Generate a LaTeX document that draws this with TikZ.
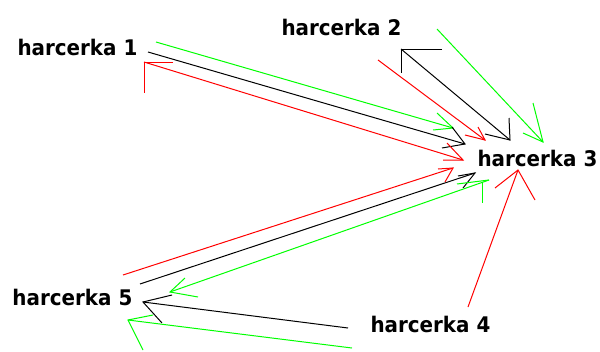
\documentclass[tikz,border=0pt]{standalone}
\usepackage{fontspec}
\newfontfamily\labfont[FakeStretch=0.925]{DejaVu Sans Bold}
\definecolor{pgreen}{RGB}{0,255,0}
\definecolor{pred}{RGB}{255,0,0}
\begin{document}
\begin{tikzpicture}[x=1pt,y=-1pt,line width=1pt,
  lab/.style={font=\labfont\fontsize{21.5}{22}\selectfont, inner sep=0pt, anchor=base west},
  gl/.style={draw=pgreen},
  rl/.style={draw=pred},
  kl/.style={draw=black}]
\useasboundingbox (0,0) rectangle (600,351);
% labels
\node[lab] (h1) at (17,55) {harcerka 1};
\node[lab] (h2) at (281,35) {harcerka 2};
\node[lab] (h3) at (477,166) {harcerka 3};
\node[lab] (h4) at (370,332) {harcerka 4};
\node[lab] (h5) at (12,305) {harcerka 5};
% endpoints: harcerka 1 -> 3
\coordinate (g1s) at (156,42); \coordinate (g1t) at (453,128);
\coordinate (g1a) at (437,113); \coordinate (g1b) at (433,130);
\coordinate (k1s) at (148,52); \coordinate (k1t) at (465,144);
\coordinate (k1a) at (452,127); \coordinate (k1b) at (442,148);
\coordinate (r1s) at (144,62); \coordinate (r1t) at (463,160);
\coordinate (r1a) at (447,143); \coordinate (r1b) at (443,160);
\coordinate (r1c) at (173,62); \coordinate (r1d) at (144,93);
% harcerka 2 -> 3
\coordinate (k2s) at (401,49); \coordinate (k2t) at (510,140);
\coordinate (k2a) at (442,49); \coordinate (k2b) at (401,73);
\coordinate (k2c) at (509,118); \coordinate (k2d) at (485,134);
\coordinate (r2s) at (378,60); \coordinate (r2t) at (485,140);
\coordinate (r2a) at (478,127); \coordinate (r2b) at (465,135);
\coordinate (g2s) at (437,29); \coordinate (g2t) at (543,142);
\coordinate (g2a) at (533,103); \coordinate (g2b) at (523,133);
% harcerka 5 <-> 3
\coordinate (r5s) at (123,275); \coordinate (r5t) at (453,168);
\coordinate (r5a) at (438,169); \coordinate (r5b) at (445,182);
\coordinate (k5s) at (140,284); \coordinate (k5t) at (475,173);
\coordinate (k5a) at (458,176); \coordinate (k5b) at (463,188);
\coordinate (g5s) at (489,180); \coordinate (g5t) at (170,292);
\coordinate (g5a) at (185,278); \coordinate (g5b) at (198,297);
\coordinate (g5c) at (457,184); \coordinate (g5d) at (482,182); \coordinate (g5e) at (482,203);
% harcerka 4
\coordinate (r4s) at (468,307); \coordinate (r4t) at (518,170);
\coordinate (r4a) at (495,188); \coordinate (r4b) at (535,200);
\coordinate (k4s) at (348,328); \coordinate (k4t) at (143,302);
\coordinate (k4a) at (172,295); \coordinate (k4b) at (162,323);
\coordinate (g4s) at (352,348); \coordinate (g4t) at (128,320);
\coordinate (g4a) at (153,315); \coordinate (g4b) at (143,350);
% connectors
\draw[gl] (g1s) -- (g1t); \draw[gl] (g1a) -- (g1t) -- (g1b);
\draw[kl] (k1s) -- (k1t); \draw[kl] (k1a) -- (k1t) -- (k1b);
\draw[rl] (r1s) -- (r1t); \draw[rl] (r1a) -- (r1t) -- (r1b);
\draw[rl] (r1c) -- (r1s) -- (r1d);
\draw[kl] (k2s) -- (k2t); \draw[kl] (k2a) -- (k2s) -- (k2b);
\draw[kl] (k2c) -- (k2t) -- (k2d);
\draw[rl] (r2s) -- (r2t); \draw[rl] (r2a) -- (r2t) -- (r2b);
\draw[gl] (g2s) -- (g2t); \draw[gl] (g2a) -- (g2t) -- (g2b);
\draw[rl] (r5s) -- (r5t); \draw[rl] (r5a) -- (r5t) -- (r5b);
\draw[kl] (k5s) -- (k5t); \draw[kl] (k5a) -- (k5t) -- (k5b);
\draw[gl] (g5s) -- (g5t); \draw[gl] (g5a) -- (g5t) -- (g5b);
\draw[gl] (g5c) -- (g5s); \draw[gl] (g5d) -- (g5e);
\draw[rl] (r4s) -- (r4t); \draw[rl] (r4a) -- (r4t) -- (r4b);
\draw[kl] (k4s) -- (k4t); \draw[kl] (k4a) -- (k4t) -- (k4b);
\draw[gl] (g4s) -- (g4t); \draw[gl] (g4a) -- (g4t) -- (g4b);
\end{tikzpicture}
\end{document}
